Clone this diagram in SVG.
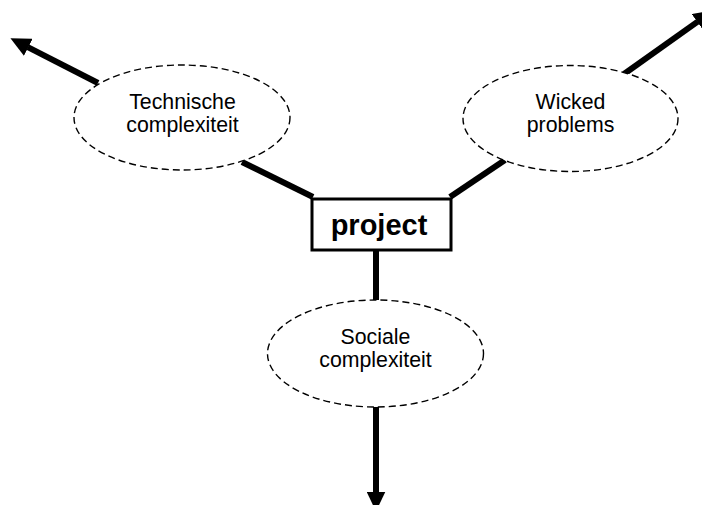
<svg xmlns="http://www.w3.org/2000/svg" width="702" height="505" viewBox="0 0 702 505">
  <defs>
    <style>
      .conn { stroke: #000; stroke-width: 6; fill: none; stroke-linecap: butt; }
      .ell { fill: #fff; stroke: #000; stroke-width: 1.4; stroke-dasharray: 7 4; }
      .lbl { font-family: "Liberation Sans", Arial, sans-serif; font-size: 21.3px; fill: #000; text-anchor: middle; }
      .box { fill: #fff; stroke: #000; stroke-width: 3; }
      .boxlbl { font-family: "Liberation Sans", Arial, sans-serif; font-size: 29px; font-weight: bold; fill: #000; text-anchor: middle; }
    </style>
    <marker id="arrow" viewBox="0 0 20 19" refX="0.5" refY="9.5" markerWidth="20" markerHeight="19" markerUnits="userSpaceOnUse" orient="auto">
      <path d="M0,0 L20,9.5 L0,19 z" fill="#000"/>
    </marker>
  </defs>
  <rect width="702" height="505" fill="#fff"/>
  <g id="connectors">
    <line class="conn" x1="313" y1="197" x2="242" y2="162"/>
    <line class="conn" x1="98" y1="83" x2="27.8" y2="47.1" marker-end="url(#arrow)"/>
    <line class="conn" x1="450" y1="197" x2="505" y2="160"/>
    <line class="conn" x1="624" y1="74" x2="697.7" y2="21.6" marker-end="url(#arrow)"/>
    <line class="conn" x1="376" y1="249" x2="376" y2="300"/>
    <line class="conn" x1="376" y1="407" x2="376" y2="492" marker-end="url(#arrow)"/>
  </g>
  <g id="node-technische">
    <ellipse class="ell" cx="182" cy="117.5" rx="108" ry="52.5"/>
    <text class="lbl" x="182.5" y="109">Technische</text>
    <text class="lbl" x="182.5" y="131.5">complexiteit</text>
  </g>
  <g id="node-wicked">
    <ellipse class="ell" cx="570.5" cy="118.5" rx="107.5" ry="53"/>
    <text class="lbl" x="570.5" y="108.5">Wicked</text>
    <text class="lbl" x="570.5" y="131.5">problems</text>
  </g>
  <g id="node-sociale">
    <ellipse class="ell" cx="375.5" cy="353.5" rx="108" ry="53.5"/>
    <text class="lbl" x="375.5" y="344">Sociale</text>
    <text class="lbl" x="375.5" y="367">complexiteit</text>
  </g>
  <g id="node-project">
    <rect class="box" x="312" y="199" width="139" height="51"/>
    <text class="boxlbl" x="379" y="235">project</text>
  </g>
</svg>
